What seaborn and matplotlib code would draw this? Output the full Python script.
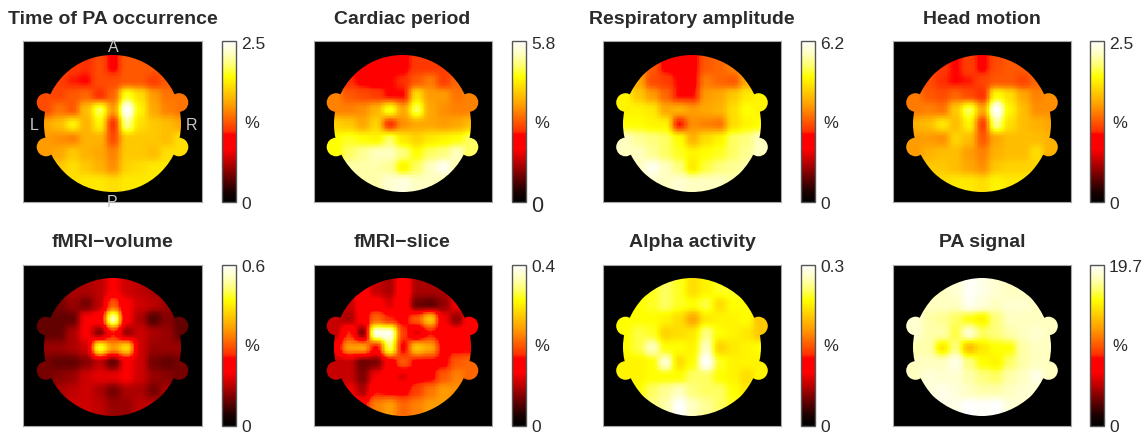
import numpy as np
import matplotlib
matplotlib.use('Agg')
import matplotlib.pyplot as plt
import seaborn as sns
from matplotlib.colors import LinearSegmentedColormap
from matplotlib.patches import Ellipse

titles = ['Time of PA occurrence', 'Cardiac period', 'Respiratory amplitude', 'Head motion',
          'fMRI\u2212volume', 'fMRI\u2212slice', 'Alpha activity', 'PA signal']
max_labels = ['2.5', '5.8', '6.2', '2.5', '0.6', '0.4', '0.3', '19.7']
zero_sizes = [12.5, 15.5, 12.5, 12.5, 12.5, 12.5, 12.5, 12.5]

# levels are % of each colour bar's top, read channel by channel (rows front to back of head)
time_pa = [[48,48,45,44,48,41,50,50,50,50,50],
           [48,46,43,42,48,48,50,50,46,50,52],
           [50,47,50,52,44,52,80,72,60,54,54],
           [52,54,50,66,84,60,100,76,62,56,54],
           [62,66,76,64,76,44,88,72,68,66,62],
           [60,58,56,64,64,48,68,68,68,66,64],
           [60,62,68,64,62,56,68,68,66,72,74],
           [68,68,72,68,64,58,70,72,74,74,72],
           [72,72,72,74,74,72,74,74,74,74,74]]
cardiac = [[40,40,41,41,41,41,45,45,46,46,46],
           [44,44,41,40,42,44,50,55,46,52,52],
           [50,50,48,46,42,42,72,60,60,54,54],
           [54,56,58,64,80,62,84,62,58,56,56],
           [70,68,62,70,44,58,62,62,60,62,66],
           [80,80,78,76,84,74,70,74,76,78,78],
           [84,84,88,92,92,86,78,84,86,92,88],
           [86,90,90,90,88,76,84,92,98,90,86],
           [90,90,90,90,94,96,92,92,90,90,90]]
respiratory = [[66,60,50,41,40,40,50,52,56,62,66],
               [66,62,48,46,42,40,55,52,50,62,66],
               [78,68,60,52,42,42,60,62,68,74,76],
               [80,76,74,62,64,60,62,64,72,78,78],
               [78,78,76,76,42,58,56,54,72,76,78],
               [88,88,86,84,78,64,72,76,84,86,86],
               [88,92,88,84,80,76,78,80,84,88,88],
               [90,92,98,92,86,74,82,86,88,90,90],
               [92,94,94,92,94,92,92,92,90,90,90]]
head_motion = [[48,48,45,42,46,41,48,50,50,52,52],
               [50,48,44,42,43,47,50,50,47,52,54],
               [52,50,48,52,48,44,78,72,62,56,56],
               [56,56,54,68,84,62,100,76,66,58,56],
               [64,66,74,66,76,46,88,72,66,64,62],
               [62,60,58,70,66,50,62,66,66,66,66],
               [64,64,66,66,60,56,64,66,66,72,72],
               [68,68,68,66,62,58,68,70,70,70,72],
               [72,72,72,74,74,72,76,74,74,74,74]]
fmri_volume = [[21,21,23,23,25,33,27,25,23,21,21],
               [15,17,21,17,25,50,33,27,25,21,19],
               [15,15,15,33,36,92,33,23,13,19,19],
               [15,15,23,33,19,42,21,27,23,21,17],
               [21,21,23,27,82,60,72,27,21,21,21],
               [17,15,15,19,25,15,33,27,17,15,15],
               [19,19,21,27,30,30,33,27,21,19,19],
               [23,23,25,27,23,17,23,23,17,23,23],
               [23,25,27,27,25,21,21,25,25,25,25]]
fmri_slice = [[29,32,36,26,23,40,23,23,23,32,32],
              [26,26,36,36,29,40,16,14,20,32,36],
              [26,23,36,52,44,40,50,68,32,20,32],
              [32,44,18,98,98,46,29,42,36,36,40],
              [36,60,62,40,84,40,68,62,40,40,40],
              [26,26,16,18,36,50,40,40,40,50,54],
              [29,26,18,32,36,29,40,40,50,56,58],
              [32,32,23,42,40,40,46,54,60,58,58],
              [40,40,40,56,60,52,56,60,60,58,58]]
alpha_activity = [[76,78,80,84,80,72,76,80,80,80,80],
                  [78,78,80,84,80,78,82,72,78,78,78],
                  [76,78,78,76,72,62,74,76,76,78,78],
                  [78,82,80,70,72,74,86,78,76,74,72],
                  [78,82,92,78,78,76,92,70,74,76,78],
                  [76,76,78,94,72,78,100,80,76,76,76],
                  [76,76,78,78,78,84,84,78,76,72,76],
                  [78,78,84,88,92,86,84,84,78,74,76],
                  [82,84,86,90,100,92,88,84,80,78,76]]
pa_signal = [[92,92,92,94,99,97,94,92,92,92,92],
             [90,92,92,92,98,95,92,94,94,92,92],
             [90,90,88,84,79,76,86,92,92,92,92],
             [92,90,90,82,94,84,86,90,92,94,94],
             [90,90,74,86,66,74,78,78,90,92,92],
             [92,92,92,97,86,78,76,84,90,92,92],
             [94,95,94,94,90,86,84,90,92,97,92],
             [94,95,97,95,92,90,90,92,94,94,94],
             [95,95,97,97,100,99,100,95,94,94,94]]
# four outer channels: top left, top right, bottom left, bottom right
ear_levels = [[48,54,60,72], [56,56,78,84], [76,76,92,92], [55,58,60,64],
              [15,15,17,17], [26,40,26,52], [78,68,76,76], [94,92,92,92]]
all_levels = [time_pa, cardiac, respiratory, head_motion,
              fmri_volume, fmri_slice, alpha_activity, pa_signal]

W, H = 1148, 435
panel_left = [23.5, 313.5, 603, 893]
bar_left = [221.5, 511.5, 800.5, 1089.5]
row_top = [42, 265.5]
panel_w, panel_h = 178, 161
bar_w = 14
cell_w, cell_h = 13.5, 14.4
head_x, head_y, head_r = 89, 82.5, 68.7
ears = [(-66.5, -21), (66.5, -21), (-66.5, 23.5), (66.5, 23.5)]
ups = 10

head_cmap = LinearSegmentedColormap.from_list('head', [
    (0.0, '#000000'), (0.06, '#190000'), (0.15, '#640000'), (0.25, '#be0000'), (0.33, '#ff0000'),
    (0.42, '#ff0000'), (0.44, '#ff3000'), (0.6, '#ff9c00'), (0.78, '#ffff00'), (0.85, '#ffff70'),
    (0.92, '#ffffc0'), (1.0, '#ffffff')], N=512)


def smooth(arr, k):
    kernel = np.ones(k) / k
    for axis in (0, 1):
        arr = np.apply_along_axis(
            lambda v: np.convolve(np.pad(v, k, mode='edge'), kernel, mode='same')[k:-k], axis, arr)
    return arr


def px(rect):
    l, t, w, h = rect
    return [l / W, 1 - (t + h) / H, w / W, h / H]


sns.set_style('white')
plt.rcParams['font.family'] = ['Liberation Sans', 'DejaVu Sans']
fig = plt.figure(figsize=(W / 100, H / 100), dpi=100)

for i, levels in enumerate(all_levels):
    col, row = i % 4, i // 4
    ax = fig.add_axes(px((panel_left[col], row_top[row], panel_w, panel_h)))
    cax = fig.add_axes(px((bar_left[col], row_top[row], bar_w, panel_h)))
    vmax = float(max_labels[i])
    grid = np.array(levels, dtype=float)
    # edge cells next to the ears take the ear colour so they join the head
    grid[2:4, 0], grid[2:4, -1] = ear_levels[i][0], ear_levels[i][1]
    grid[5:7, 0], grid[5:7, -1] = ear_levels[i][2], ear_levels[i][3]
    vals = np.pad(grid / 100 * vmax, ((1, 1), (0, 0)), mode='edge')
    fine = np.kron(vals, np.ones((ups, ups)))
    fine = smooth(smooth(fine, 6), 5)
    sns.heatmap(fine, ax=ax, cbar_ax=cax, cmap=head_cmap, vmin=0, vmax=vmax,
                xticklabels=False, yticklabels=False, rasterized=True,
                cbar_kws={'ticks': []})
    mesh = ax.collections[0]
    # panel pixel -> heatmap cell coords
    sx = ups / cell_w
    sy = ups / cell_h
    mid_x, mid_y = fine.shape[1] / 2, fine.shape[0] / 2
    ax.set_xlim(mid_x - head_x * sx, mid_x + (panel_w - head_x) * sx)
    ax.set_ylim(mid_y + (panel_h - head_y) * sy, mid_y - head_y * sy)
    ax.set_facecolor('black')
    head = Ellipse((mid_x, mid_y), 2 * head_r * sx, 2 * head_r * sy, fc='none', ec='none')
    ax.add_patch(head)
    mesh.set_clip_path(head)
    for (dx, dy), lev in zip(ears, ear_levels[i]):
        ax.add_patch(Ellipse((mid_x + dx * sx, mid_y + dy * sy), 18.6 * sx, 18.6 * sy,
                             fc=head_cmap(lev / 100), ec='none', zorder=0.5))
    for spine in ax.spines.values():
        spine.set_visible(True)
        spine.set_color('#a8a8a8')
        spine.set_linewidth(0.8)
    cb = mesh.colorbar
    cb.outline.set_visible(True)
    cb.outline.set_edgecolor('#555555')
    cb.outline.set_linewidth(1.0)
    cax.tick_params(length=0)

    # texts
    cx = panel_left[col] + panel_w / 2
    top = row_top[row]
    tx = bar_left[col] + bar_w + 5.5
    fig.text(cx / W, 1 - (top - 18.5) / H, titles[i], ha='center', va='baseline', fontsize=14,
             fontweight='bold', color='#2b2b2b')
    fig.text(tx / W, 1 - (top + 7) / H, max_labels[i], ha='left', va='baseline', fontsize=12.5, color='#2b2b2b')
    zero_base = top + panel_h + (9 if zero_sizes[i] > 13 else 6)
    fig.text(tx / W, 1 - zero_base / H, '0', ha='left', va='baseline', fontsize=zero_sizes[i], color='#2b2b2b')
    fig.text((tx + 11) / W, 1 - (top + 81) / H, '%', ha='center', va='center', fontsize=12, color='#2b2b2b')

for label, x, y in [('A', 113, 48), ('L', 34, 126), ('R', 191.5, 126), ('P', 112.5, 202.5)]:
    fig.text(x / W, 1 - y / H, label, ha='center', va='center', fontsize=11.5, color='#c8c8c8')

fig.savefig('out.png', dpi=100)
